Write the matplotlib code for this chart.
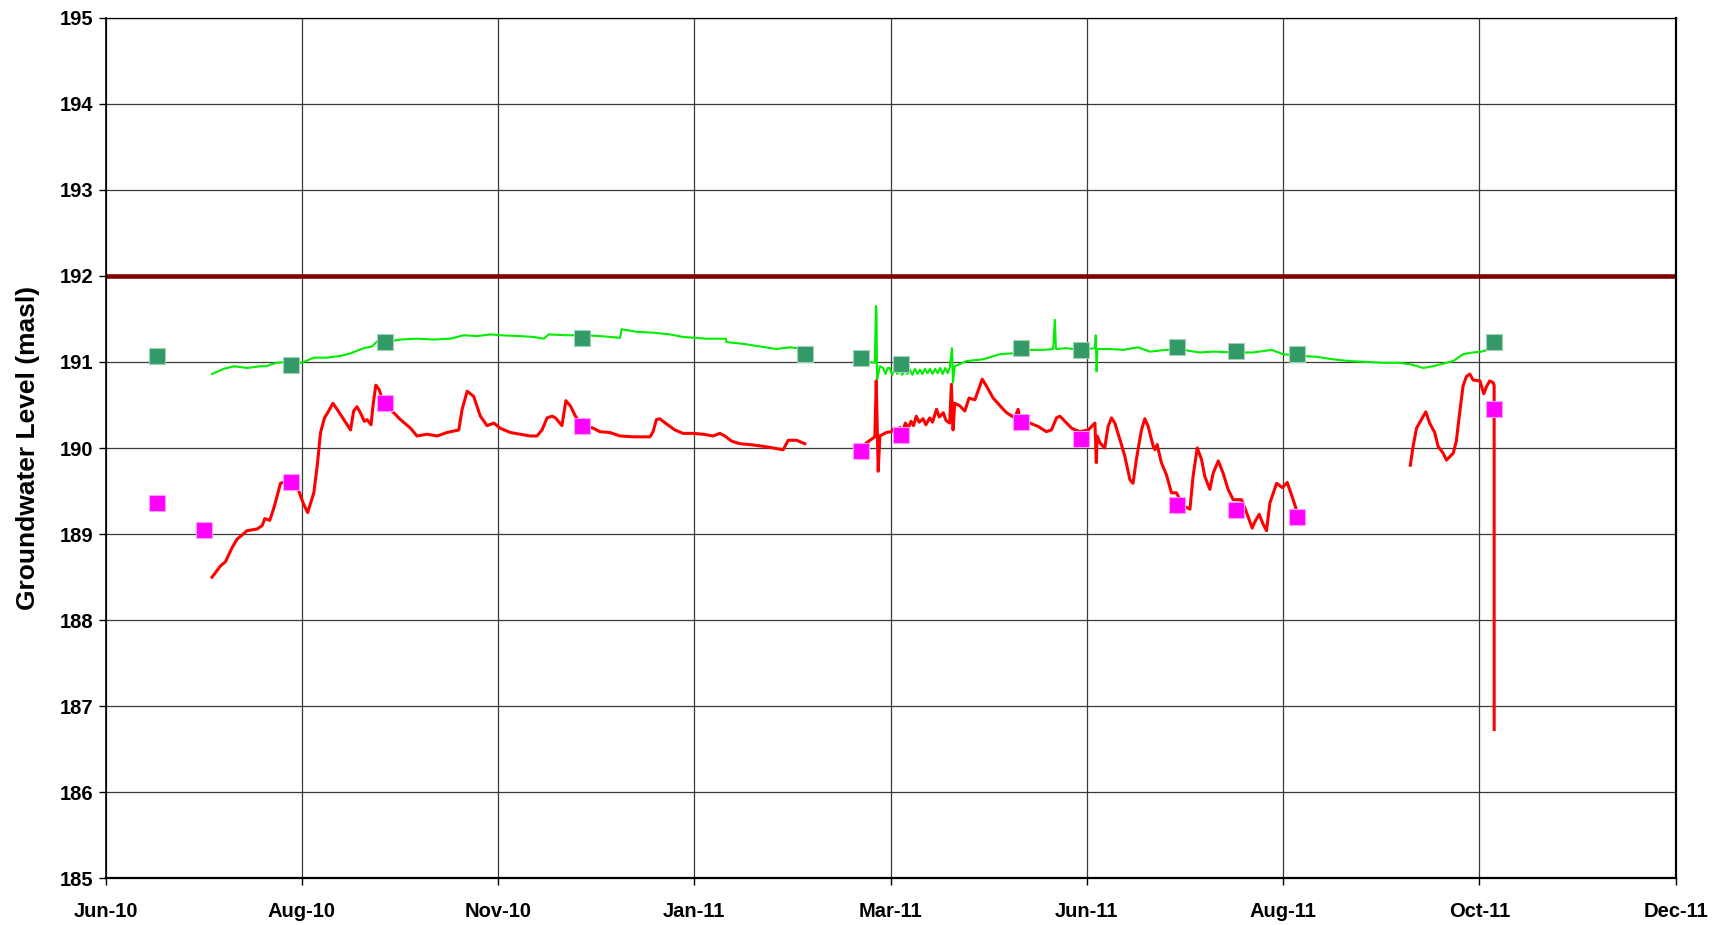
import matplotlib
matplotlib.use("Agg")
import matplotlib.pyplot as plt
import matplotlib.dates as mdates
import numpy as np
import pandas as pd

plt.rcParams['font.family'] = ['Liberation Sans', 'DejaVu Sans']

# ---------------- data (x values are days after 2010-06-18) ----------------
START = pd.Timestamp("2010-06-18")

threshold_level = 192.0

# manual measurements (dark green squares)
green_pts_days = [18.4, 66.3, 99.6, 169.8, 249.4, 269.4, 283.6, 326.7, 347.9, 382.0, 403.2, 425.1, 495.4]
green_pts_vals = [191.07, 190.96, 191.23, 191.28, 191.09, 191.04, 190.98, 191.16, 191.14, 191.17, 191.13, 191.09, 191.23]

# manual measurements (magenta squares)
mag_pts_days = [18.4, 35.0, 66.3, 99.6, 169.8, 269.4, 283.6, 326.7, 347.9, 382.0, 403.2, 425.1, 495.4]
mag_pts_vals = [189.36, 189.05, 189.61, 190.52, 190.26, 189.97, 190.15, 190.30, 190.11, 189.34, 189.28, 189.20, 190.45]

# logger record, green (shallow) -- segments separated by NaN
green_days = [38.0, 42.2, 45.8, 50.5, 55.3, 57.6, 58.8, 61.2, 64.8, 70.0, 74.3, 79.0, 83.8, 87.4, 92.1,
              95.1, 96.9, 101.6, 105.2, 111.1, 117.1, 123.0, 127.8, 132.5, 137.3, 140.8, 148.0, 152.7,
              156.3, 158.1, 164.6, 170.6, 176.5, 183.5,
              184.1, 189.4, 195.3, 201.3, 206.0, 210.0, 214.4, 217.9, 221.3, 221.5, 227.4, 233.4,
              239.3, 244.1, 248.8, 251.8,
              np.nan,
              272.0, 274.4, 274.8, 275.0, 275.2, 276.2, 277.4, 278.2, 279.0, 279.7, 280.6, 281.5, 282.4,
              283.3, 284.2, 285.1, 286.0, 286.9, 287.8, 288.7, 289.6, 290.5, 291.4, 292.3, 293.2, 294.1,
              295.0, 295.9, 296.8, 297.7, 298.6, 299.5, 300.4, 301.1, 301.9, 302.3, 302.9, 307.1, 313.0,
              319.0, 323.8, 329.7, 334.5, 338.0, 338.6, 339.0, 342.8, 347.5, 352.9, 353.2, 353.5, 353.8,
              358.2, 363.0, 368.3, 372.5, 378.4, 384.4, 390.3, 395.1, 402.2, 409.3, 415.9, 420.0, 426.0,
              431.9, 437.9, 443.8, 449.7, 455.7, 461.6, 465.8, 470.0, 473.5, 477.1, 480.7, 484.2, 487.8,
              490.8, 494.9]
green_vals = [190.86, 190.92, 190.95, 190.93, 190.95, 190.95, 190.97, 190.99, 191.00, 190.99, 191.05,
              191.05, 191.07, 191.10, 191.16, 191.18, 191.24, 191.24, 191.26, 191.27, 191.26, 191.27,
              191.31, 191.30, 191.32, 191.31, 191.30, 191.29, 191.27, 191.32, 191.31, 191.31, 191.30,
              191.28,
              191.38, 191.35, 191.34, 191.32, 191.29, 191.28, 191.27, 191.27, 191.27, 191.23, 191.21,
              191.18, 191.15, 191.17, 191.15, 191.15,
              np.nan,
              191.00, 190.99, 191.65, 191.60, 190.79, 190.95, 190.93, 190.86, 190.93, 190.93, 190.85,
              190.92, 190.86, 190.91, 190.85, 190.92, 190.86, 190.91, 190.85, 190.92, 190.86, 190.91,
              190.86, 190.92, 190.87, 190.92, 190.86, 190.92, 190.87, 190.93, 190.86, 190.93, 190.87,
              190.93, 191.16, 190.76, 190.95, 191.01, 191.03, 191.09, 191.10, 191.14, 191.14, 191.15,
              191.49, 191.15, 191.16, 191.14, 191.16, 191.31, 190.89, 191.15, 191.15, 191.14, 191.17,
              191.12, 191.14, 191.14, 191.11, 191.12, 191.11, 191.11, 191.14, 191.09, 191.07, 191.06,
              191.03, 191.01, 191.00, 190.99, 190.99, 190.97, 190.93, 190.95, 190.98, 191.01, 191.09,
              191.11, 191.12, 191.16]

# logger record, red (deep) -- segments separated by NaN
red_days = [38.0, 41.0, 42.8, 45.1, 46.9, 50.5, 54.1, 55.9, 56.8, 58.6, 60.0, 61.2, 62.4, 64.2, 68.3,
            70.5, 72.1, 74.3, 75.5, 76.7, 78.1, 79.6, 81.1, 82.6, 85.0, 87.4, 88.5, 89.7, 90.9, 92.3,
            93.3, 94.7, 95.4, 96.4, 97.6, 99.0, 102.2, 105.2, 108.8, 111.1, 114.7, 118.3, 121.8, 126.0,
            127.2, 129.0, 131.3, 133.7, 136.1, 138.5, 140.8, 144.4, 148.0, 151.5, 153.9, 155.7, 157.5,
            159.3, 160.5, 162.8, 164.2, 165.8, 167.6, 170.0, 174.0, 176.3, 179.9, 183.5, 188.2, 194.2,
            195.3, 196.5, 197.7, 200.1, 203.1, 206.0, 209.6, 213.2, 216.7, 219.1, 220.9, 223.3, 226.3,
            229.8, 234.6, 238.1, 241.7, 243.5, 246.5, 249.4,
            np.nan,
            271.4, 274.4, 274.9, 275.6, 276.2, 278.5, 280.3, 281.3, 282.3, 283.3, 284.3, 285.3, 286.3,
            287.3, 288.2, 289.2, 290.2, 291.6, 292.6, 294.0, 295.0, 296.4, 297.4, 298.8, 299.8, 301.1,
            301.7, 302.3, 302.9, 304.7, 306.5, 308.0, 310.1, 312.7, 314.2, 316.6, 320.2, 321.4, 324.3,
            325.5, 326.1, 329.7, 332.7, 335.6, 337.4, 339.2, 340.4, 342.2, 344.6, 347.5, 350.5, 352.9,
            353.4, 353.7, 354.7, 356.4, 357.6, 358.8, 360.0, 361.8, 363.6, 365.4, 366.5, 367.7, 369.5,
            370.7, 371.9, 373.7, 374.3, 375.1, 376.6, 378.4, 380.2, 382.0, 383.2, 385.0, 386.8, 387.9,
            389.4, 390.9, 392.1, 393.9, 395.1, 396.9, 398.6, 400.4, 402.2, 405.2, 407.0, 409.0, 409.9,
            411.5, 412.7, 414.1, 415.3, 417.7, 419.8, 421.5, 423.6, 424.8,
            np.nan,
            465.4, 466.4, 467.6, 469.0, 470.9, 472.3, 474.1, 475.3, 477.1, 478.3, 480.7, 481.8, 483.0,
            484.2, 485.4, 486.6, 487.8, 490.2, 491.6, 492.5, 493.7, 494.9, 495.3, 495.31]
red_vals = [188.50, 188.63, 188.68, 188.84, 188.94, 189.04, 189.06, 189.10, 189.18, 189.16, 189.30,
            189.44, 189.59, 189.61, 189.56, 189.36, 189.25, 189.48, 189.79, 190.18, 190.35, 190.43,
            190.52, 190.45, 190.33, 190.21, 190.43, 190.48, 190.41, 190.31, 190.33, 190.27, 190.49,
            190.73, 190.68, 190.54, 190.43, 190.33, 190.23, 190.14, 190.16, 190.14, 190.18, 190.21,
            190.45, 190.66, 190.60, 190.37, 190.26, 190.29, 190.23, 190.18, 190.16, 190.14, 190.14,
            190.21, 190.35, 190.37, 190.35, 190.26, 190.55, 190.49, 190.37, 190.27, 190.23, 190.19,
            190.18, 190.14, 190.13, 190.13, 190.19, 190.33, 190.34, 190.28, 190.21, 190.17, 190.17,
            190.16, 190.14, 190.17, 190.14, 190.08, 190.05, 190.04, 190.02, 190.00, 189.98, 190.09,
            190.09, 190.05,
            np.nan,
            190.06, 190.13, 190.78, 189.73, 190.14, 190.18, 190.19, 190.23, 190.17, 190.24, 190.19,
            190.29, 190.23, 190.31, 190.26, 190.37, 190.30, 190.34, 190.27, 190.35, 190.30, 190.45,
            190.36, 190.41, 190.32, 190.29, 190.74, 190.21, 190.52, 190.49, 190.43, 190.58, 190.56,
            190.80, 190.72, 190.58, 190.45, 190.41, 190.35, 190.45, 190.35, 190.29, 190.25, 190.19,
            190.21, 190.35, 190.37, 190.31, 190.23, 190.19, 190.21, 190.29, 189.83, 190.14, 190.06,
            190.00, 190.25, 190.35, 190.29, 190.10, 189.90, 189.63, 189.59, 189.87, 190.21, 190.34,
            190.25, 190.02, 189.98, 190.04, 189.83, 189.69, 189.48, 189.48, 189.40, 189.32, 189.29,
            189.67, 190.00, 189.87, 189.67, 189.52, 189.71, 189.85, 189.71, 189.52, 189.40, 189.40,
            189.25, 189.07, 189.14, 189.23, 189.13, 189.04, 189.36, 189.59, 189.54, 189.60, 189.40,
            189.28,
            np.nan,
            189.80, 190.02, 190.23, 190.31, 190.42, 190.29, 190.18, 190.02, 189.94, 189.86, 189.94,
            190.08, 190.41, 190.72, 190.83, 190.86, 190.79, 190.78, 190.63, 190.71, 190.78, 190.76,
            190.73, 186.73]

tick_step_days = 70
n_ticks = 9
y_min, y_max = 185, 195


def to_dates(days):
    d = np.array(days, dtype=float)
    base = mdates.date2num(START.to_pydatetime())
    return base + d


# ---------------- figure ----------------
fig = plt.figure(figsize=(17.24, 9.25), dpi=100)
ax = fig.add_axes([0.0612, 0.0503, 0.9107, 0.9307])

base = mdates.date2num(START.to_pydatetime())
ticks = base + np.arange(n_ticks) * tick_step_days
ax.set_xlim(ticks[0], ticks[-1])
ax.set_ylim(y_min, y_max)
ax.set_xticks(ticks)
ax.xaxis.set_major_formatter(mdates.DateFormatter('%b-%y'))
ax.set_yticks(np.arange(y_min, y_max + 1, 1))

ax.grid(True, color='#3a3a3a', linewidth=0.9, zorder=0)
ax.set_axisbelow(True)

ax.axhline(threshold_level, color='#800000', linewidth=3.3, zorder=2)

ax.plot(to_dates(green_days), green_vals, color='#00EE00', linewidth=1.5, zorder=3)
ax.plot(to_dates(red_days), red_vals, color='#FF0000', linewidth=2.2, zorder=4)

ax.plot(to_dates(green_pts_days), green_pts_vals, linestyle='none', marker='s', markersize=11.5,
        markerfacecolor='#339966', markeredgecolor='#9fd3b8', markeredgewidth=0.8, zorder=5)
ax.plot(to_dates(mag_pts_days), mag_pts_vals, linestyle='none', marker='s', markersize=11.5,
        markerfacecolor='#FF00FF', markeredgecolor='#ff9cff', markeredgewidth=0.8, zorder=5)

for s in ['left', 'bottom', 'right', 'top']:
    ax.spines[s].set_color('black')
ax.spines['left'].set_linewidth(1.2)
ax.spines['bottom'].set_linewidth(1.6)
ax.spines['right'].set_linewidth(1.6)
ax.spines['top'].set_linewidth(0.9)

ax.tick_params(axis='both', direction='out', length=5, width=1, color='black', labelsize=14.5)
ax.tick_params(axis='x', pad=12)
ax.tick_params(axis='y', pad=4)
for lab in ax.get_xticklabels() + ax.get_yticklabels():
    lab.set_fontweight('bold')

ax.set_ylabel('Groundwater Level (masl)', fontsize=19, fontweight='bold', labelpad=14)

fig.savefig('out.png', dpi=100)
